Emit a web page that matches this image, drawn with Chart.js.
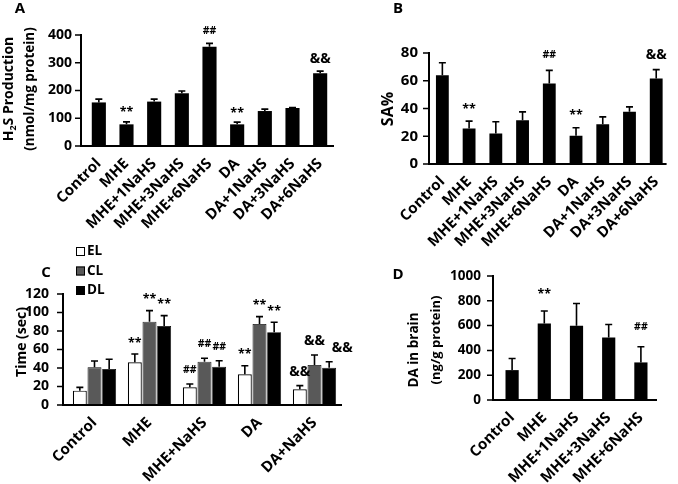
<!DOCTYPE html>
<html>
<head>
<meta charset="utf-8">
<script src="https://cdn.jsdelivr.net/npm/chart.js@4"></script>
<style>
  html,body{margin:0;padding:0;background:#fff;}
  #wrap{position:relative;width:678px;height:484px;background:#fff;overflow:hidden;}
  #wrap canvas{position:absolute;left:0;top:0;}
</style>
</head>
<body>
<div id="wrap">
  <canvas id="cA" width="678" height="484"></canvas>
  <canvas id="cB" width="678" height="484"></canvas>
  <canvas id="cC" width="678" height="484"></canvas>
  <canvas id="cD" width="678" height="484"></canvas>
</div>
<script>
// ---------- DATA ----------
const catsAB = ['Control','MHE','MHE+1NaHS','MHE+3NaHS','MHE+6NaHS','DA','DA+1NaHS','DA+3NaHS','DA+6NaHS'];
const h2sMean = [157, 78, 160, 190, 358, 78, 126, 137, 262];
const h2sErr  = [12, 9, 9, 8, 12, 8, 7, 2, 8];
const h2sMarks = ['', '**', '', '', '##', '**', '', '', '&&'];
const h2sTicks = [0, 100, 200, 300, 400];

const saMean = [64, 25.6, 22, 31.6, 58, 20.4, 28.7, 37.6, 61.6];
const saErr  = [9, 5.3, 8.4, 6, 9.5, 5.7, 5.3, 3.6, 6.4];
const saMarks = ['', '**', '', '', '##', '**', '', '', '&&'];
const saTicks = [0, 20, 40, 60, 80];

const catsC = ['Control','MHE','MHE+NaHS','DA','DA+NaHS'];
const elMean = [15.5, 46.1, 19.1, 33.2, 16.9];
const elErr  = [3.6, 9.0, 3.6, 9.3, 4.0];
const elMarks = ['', '**', '##', '**', '&&'];
const clMean = [40.7, 90.1, 46.8, 87.6, 43.2];
const clErr  = [6.9, 11.9, 3.7, 7.9, 10.8];
const clMarks = ['', '**', '##', '**', '&&'];
const dlMean = [38.9, 85.4, 41.4, 78.6, 40.4];
const dlErr  = [10.5, 11.2, 6.5, 10.8, 6.4];
const dlMarks = ['', '**', '##', '**', '&&'];
const timeTicks = [0, 20, 40, 60, 80, 100, 120];

const catsD = ['Control','MHE','MHE+1NaHS','MHE+3NaHS','MHE+6NaHS'];
const daMean = [241, 617, 598, 504, 303];
const daErr  = [94, 101, 180, 105, 126];
const daMarks = ['', '**', '', '', '##'];
const daTicks = [0, 200, 400, 600, 800, 1000];

// ---------- RENDERING ----------
const FONT = '"Open Sans", "Liberation Sans", sans-serif';
Chart.defaults.font.family = FONT;
Chart.defaults.color = '#000';
const W = 678, H = 484;

const decor = {
  id: 'decor',
  afterDatasetsDraw(chart, args, o) {
    const ctx = chart.ctx;
    const a = chart.chartArea;
    const ys = chart.scales.y;
    const axX = a.left - o.axisGap;
    ctx.save();
    // error bars + significance marks
    chart.data.datasets.forEach((ds, i) => {
      const meta = chart.getDatasetMeta(i);
      meta.data.forEach((el, j) => {
        const top = ys.getPixelForValue(ds.data[j] + ds.errors[j]);
        ctx.strokeStyle = '#000';
        ctx.lineWidth = 1.6;
        ctx.beginPath();
        ctx.moveTo(el.x, el.y);
        ctx.lineTo(el.x, top);
        ctx.moveTo(el.x - 3.5, top);
        ctx.lineTo(el.x + 3.5, top);
        ctx.stroke();
        const m = ds.marks[j];
        if (m) {
          const isStar = m.indexOf('*') >= 0;
          const isHash = m.indexOf('#') >= 0;
          ctx.fillStyle = '#000';
          ctx.font = isHash ? 'bold 10.5px ' + FONT : (isStar ? 'bold 12.5px ' : 'bold 14px ') + FONT;
          ctx.textAlign = 'center';
          ctx.textBaseline = 'middle';
          const dx = (ds.markDx && ds.markDx[j]) || 0;
          ctx.fillText(m, el.x + dx, top - o.markGap + (isStar ? 3 : 0));
        }
      });
    });
    // axes
    ctx.strokeStyle = '#000';
    ctx.lineWidth = 2;
    ctx.beginPath();
    ctx.moveTo(axX, a.top - 1);
    ctx.lineTo(axX, a.bottom);
    ctx.lineTo(a.right - o.axisEndTrim, a.bottom);
    ctx.stroke();
    ctx.lineWidth = 1.5;
    ctx.beginPath();
    ys.ticks.forEach(t => {
      const y = ys.getPixelForValue(t.value);
      ctx.moveTo(axX - 6, y);
      ctx.lineTo(axX, y);
    });
    ctx.stroke();
    // panel letter
    ctx.fillStyle = '#000';
    ctx.font = 'bold 15px ' + FONT;
    ctx.textAlign = 'center';
    ctx.textBaseline = 'middle';
    ctx.fillText(o.letter.t, o.letter.x, o.letter.y);
    // axis titles (rotated)
    o.titles.forEach(tl => {
      ctx.save();
      ctx.translate(tl.x, tl.y);
      ctx.rotate(-Math.PI / 2);
      ctx.textBaseline = 'middle';
      ctx.textAlign = 'left';
      const big = 'bold ' + tl.size + 'px ' + FONT;
      const small = 'bold ' + Math.round(tl.size * 0.65) + 'px ' + FONT;
      let total = 0;
      tl.parts.forEach(p => { ctx.font = p.sub ? small : big; total += ctx.measureText(p.t).width; });
      let x = -total / 2;
      tl.parts.forEach(p => {
        ctx.font = p.sub ? small : big;
        ctx.fillText(p.t, x, p.sub ? tl.size * 0.3 : 0);
        x += ctx.measureText(p.t).width;
      });
      ctx.restore();
    });
    // legend (panel C)
    if (o.legend) {
      chart.data.datasets.forEach((ds, i) => {
        const y = o.legend.y + i * o.legend.step;
        ctx.fillStyle = ds.backgroundColor;
        ctx.fillRect(o.legend.x, y - 4.5, 9, 9);
        ctx.strokeStyle = '#000';
        ctx.lineWidth = 1;
        ctx.strokeRect(o.legend.x + 0.5, y - 4, 8, 8);
        ctx.fillStyle = '#000';
        ctx.font = 'bold 13.5px ' + FONT;
        ctx.textAlign = 'left';
        ctx.textBaseline = 'middle';
        ctx.fillText(ds.label, o.legend.x + 11, y);
      });
    }
    ctx.restore();
  }
};

function panel(id, p) {
  const yW = 60, xH = 90;
  return new Chart(document.getElementById(id), {
    type: 'bar',
    data: { labels: p.labels, datasets: p.datasets },
    options: {
      responsive: false, animation: false, devicePixelRatio: 1,
      events: [],
      layout: { padding: { left: p.area.left - yW, right: W - p.area.right, top: p.area.top, bottom: H - p.area.bottom - xH } },
      plugins: { legend: { display: false }, tooltip: { enabled: false }, decor: p.decor },
      scales: {
        x: {
          grid: { display: false, drawTicks: false }, border: { display: false },
          ticks: { font: { size: p.xSize, weight: 'bold' }, color: '#000', minRotation: 45, maxRotation: 45, padding: p.xPad, autoSkip: false },
          afterFit: s => { s.height = xH; }
        },
        y: {
          min: 0, max: p.ticks[p.ticks.length - 1],
          grid: { display: false, drawTicks: false }, border: { display: false },
          afterBuildTicks: s => { s.ticks = p.ticks.map(v => ({ value: v })); },
          ticks: { font: { size: p.ySize, weight: 'bold' }, color: '#000', padding: p.yPad, autoSkip: false,
                   callback: v => String(v) },
          afterFit: s => { s.width = yW; }
        }
      }
    },
    plugins: [decor]
  });
}

const blackBar = { backgroundColor: '#000', borderColor: '#000', borderWidth: 0 };

panel('cA', {
  labels: catsAB, ticks: h2sTicks,
  area: { left: 85, right: 334, top: 35, bottom: 146 },
  xSize: 15, ySize: 14, xPad: 9, yPad: 13,
  datasets: [Object.assign({ data: h2sMean, errors: h2sErr, marks: h2sMarks, barPercentage: 1, categoryPercentage: 0.51 }, blackBar)],
  decor: {
    axisGap: 4, axisEndTrim: 0, markGap: 12,
    letter: { t: 'A', x: 20, y: 9 },
    titles: [
      { x: 9, y: 89, size: 14, parts: [{ t: 'H' }, { t: '2', sub: true }, { t: 'S Production' }] },
      { x: 30, y: 89, size: 13.5, parts: [{ t: '(nmol/mg protein)' }] }
    ]
  }
});

panel('cB', {
  labels: catsAB, ticks: saTicks,
  area: { left: 429, right: 677, top: 53, bottom: 164 },
  xSize: 15, ySize: 15, xPad: 9, yPad: 11,
  datasets: [Object.assign({ data: saMean, errors: saErr, marks: saMarks, barPercentage: 1, categoryPercentage: 0.48 }, blackBar)],
  decor: {
    axisGap: 0, axisEndTrim: 3, markGap: 15,
    letter: { t: 'B', x: 398, y: 9 },
    titles: [ { x: 388, y: 109, size: 16, parts: [{ t: 'SA%' }] } ]
  }
});

panel('cC', {
  labels: catsC, ticks: timeTicks,
  area: { left: 67, right: 342, top: 294, bottom: 405 },
  xSize: 15, ySize: 14, xPad: 9, yPad: 18,
  datasets: [
    { label: 'EL', data: elMean, errors: elErr, marks: elMarks, backgroundColor: '#ffffff', borderColor: '#000', borderWidth: 1.2, barPercentage: 0.95, categoryPercentage: 0.8 },
    { label: 'CL', data: clMean, errors: clErr, marks: clMarks, backgroundColor: '#595959', borderColor: '#000', borderWidth: 0.8, barPercentage: 0.95, categoryPercentage: 0.8 },
    { label: 'DL', data: dlMean, errors: dlErr, marks: dlMarks, markDx: [0, 0, 0, 0, 13], backgroundColor: '#000000', borderColor: '#000', borderWidth: 0.8, barPercentage: 0.95, categoryPercentage: 0.8 }
  ],
  decor: {
    axisGap: 4, axisEndTrim: 0, markGap: 14,
    letter: { t: 'C', x: 46, y: 273 },
    legend: { x: 76, y: 251.5, step: 19.5 },
    titles: [ { x: 22, y: 342, size: 14, parts: [{ t: 'Time (sec)' }] } ]
  }
});

panel('cD', {
  labels: catsD, ticks: daTicks,
  area: { left: 496, right: 657, top: 276, bottom: 400 },
  xSize: 15, ySize: 13.5, xPad: 9, yPad: 15,
  datasets: [Object.assign({ data: daMean, errors: daErr, marks: daMarks, barPercentage: 1, categoryPercentage: 0.41 }, blackBar)],
  decor: {
    axisGap: 3, axisEndTrim: 0, markGap: 20,
    letter: { t: 'D', x: 398, y: 275 },
    titles: [
      { x: 414, y: 350, size: 13.5, parts: [{ t: 'DA in brain' }] },
      { x: 436, y: 340, size: 13, parts: [{ t: '(ng/g protein)' }] }
    ]
  }
});
</script>
</body>
</html>
